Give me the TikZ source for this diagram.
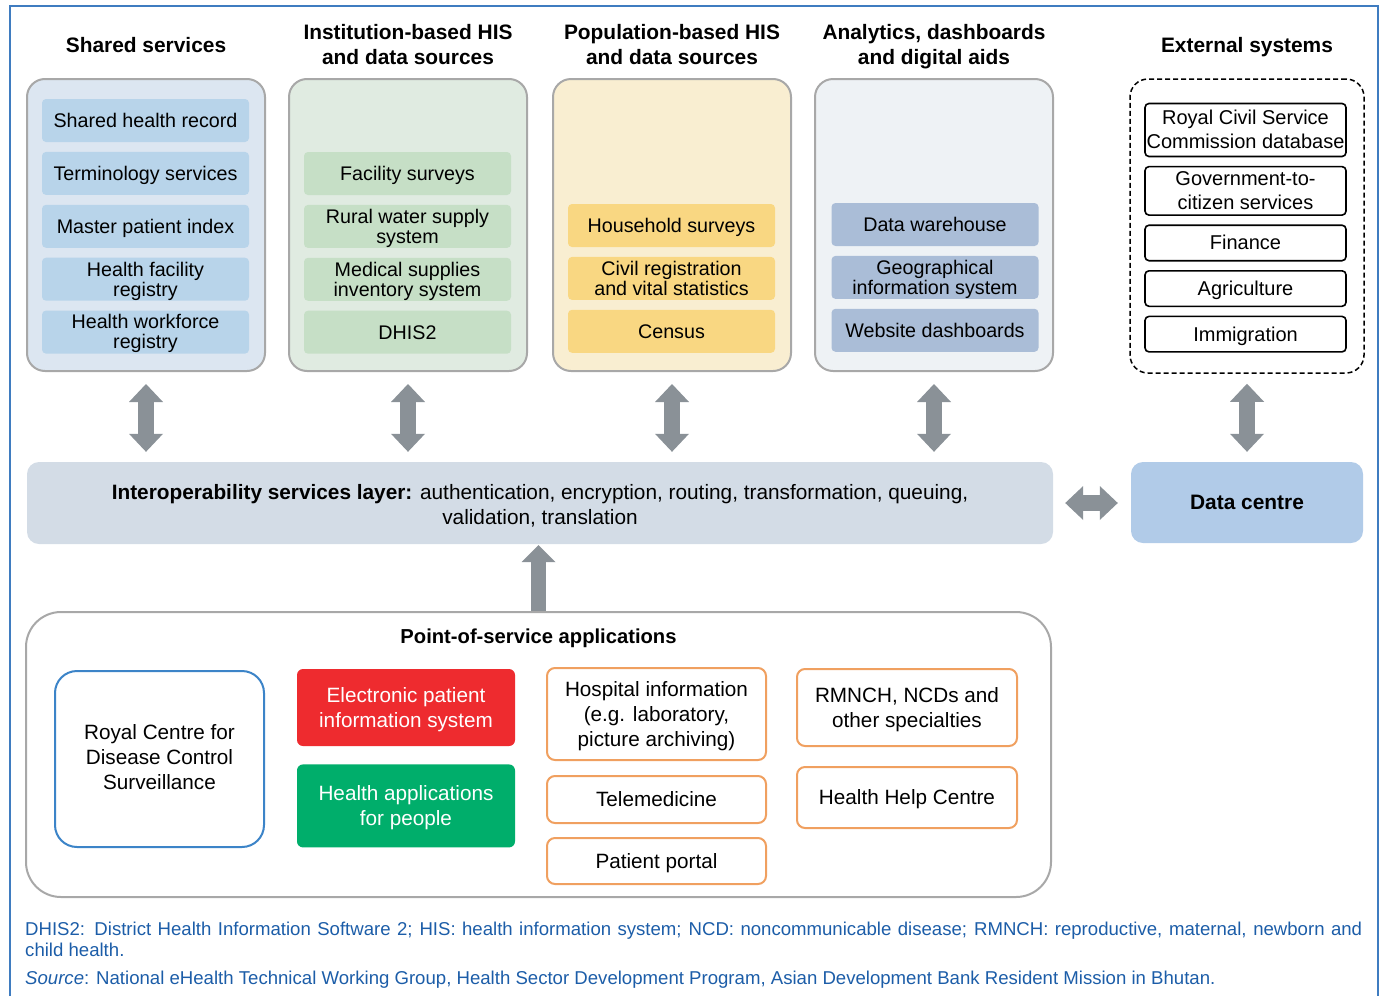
\documentclass[tikz,border=0pt]{standalone}
\usepackage{fontspec}
\setmainfont{Liberation Sans}
\usepackage{xcolor}
\usepackage{tikz}
\usetikzlibrary{arrows.meta,positioning}
\definecolor{frameblue}{HTML}{3F7CC0}
\definecolor{boxgrey}{HTML}{A8A8A8}
\definecolor{sharedbg}{HTML}{DCE6F1}
\definecolor{sharedfg}{HTML}{B8D4EA}
\definecolor{instbg}{HTML}{E0EBE1}
\definecolor{instfg}{HTML}{C6DFC6}
\definecolor{popbg}{HTML}{F9EED1}
\definecolor{popfg}{HTML}{F9D782}
\definecolor{anabg}{HTML}{EEF2F5}
\definecolor{anafg}{HTML}{AABDD7}
\definecolor{layerbg}{HTML}{D3DCE6}
\definecolor{centrebg}{HTML}{B1CBE8}
\definecolor{arrowgrey}{HTML}{8A9197}
\definecolor{eprred}{HTML}{EE2B2F}
\definecolor{appgreen}{HTML}{00AE6B}
\definecolor{orangeline}{HTML}{F0A060}
\definecolor{rcdcblue}{HTML}{3C84C8}
\definecolor{notetext}{HTML}{1C5DA8}
\tikzset{
  colbox/.style={
    draw=boxgrey, line width=2pt, fill=#1, rounded corners=18pt,
    minimum width=238pt, minimum height=292pt,
  },
  item/.style={
    fill=#1, rounded corners=4pt, inner sep=0pt,
    minimum width=207pt, minimum height=43pt,
    align=center, font=\fontsize{19.7}{20}\selectfont,
    text height=17.8pt, text depth=4.2pt,
  },
  item2/.style={item=#1, text height=37.8pt},
  head/.style={font=\fontsize{20.9}{25}\selectfont\bfseries, align=center, text height=18.9pt, text depth=4.4pt},
  head2/.style={head, text height=43.9pt},
  biarrow/.style={
    {Triangle[length=18pt,width=34pt,line width=0pt]}-{Triangle[length=18pt,width=34pt,line width=0pt]},
    line width=16pt, color=arrowgrey,
  },
  uparrow/.style={-{Triangle[length=17pt,width=34pt,line width=0pt]}, line width=15pt, color=arrowgrey},
  note/.style={font=\fontsize{18.6}{21}\selectfont, color=notetext, inner sep=0pt},
}

\begin{document}
\begin{tikzpicture}[
  x=1pt, y=-1pt,
  node distance=9.5pt,
  extframe/.style={draw=black, dashed, dash pattern=on 5pt off 3pt, line width=1.5pt, rounded corners=18pt, minimum width=234pt, minimum height=294pt},
  extitem/.style={draw=black, line width=1.6pt, fill=white, rounded corners=4pt, inner sep=0pt, minimum width=201pt, minimum height=35.5pt, align=center, font=\fontsize{20}{24}\selectfont, text height=18.1pt, text depth=4.2pt},
  positem/.style={draw=orangeline, line width=2pt, fill=white, rounded corners=8pt, inner sep=0pt, minimum width=219pt, align=center, font=\fontsize{20.7}{25}\selectfont, text height=18.7pt, text depth=4.4pt},
  fillitem/.style={fill=#1, text=white, rounded corners=6pt, inner sep=0pt, minimum width=218pt, align=center, font=\fontsize{20.7}{25}\selectfont, text height=43.7pt, text depth=4.4pt}
]

  \useasboundingbox (0,0) rectangle (1380,996);
  \draw[frameblue, line width=2pt] (10,996) -- (10,6) -- (1378,6) -- (1378,996);

  % headings
  \node[head] (hdshared) at (146,45.25) {Shared services};
  \node[head2] (hdinst) at (408,44.75) {Institution-based HIS\\and data sources};
  \node[head2] (hdpop) at (672,44.75) {Population-based HIS\\and data sources};
  \node[head2] (hdana) at (934,44.75) {Analytics, dashboards\\and digital aids};
  \node[head] (hdext) at (1247,45.25) {External systems};

  % columns
  \node[colbox=sharedbg] (shared) at (146,225) {};
  \node[colbox=instbg] (inst) at (408,225) {};
  \node[colbox=popbg] (pop) at (672,225) {};
  \node[colbox=anabg] (ana) at (934,225) {};
  \node[extframe] (ext) at (1247,226) {};

  \node[item=sharedfg] (shr) at (145.5,120.5) {Shared health record};
  \node[item=sharedfg, below=of shr] (term) {Terminology services};
  \node[item=sharedfg, below=of term] (mpi) {Master patient index};
  \node[item2=sharedfg, below=of mpi] (hfr) {Health facility\\registry};
  \node[item2=sharedfg, below=of hfr] (hwr) {Health workforce\\registry};

  \node[item=instfg] (facsurv) at (407.5,173.5) {Facility surveys};
  \node[item2=instfg, below=of facsurv] (water) {Rural water supply\\system};
  \node[item2=instfg, below=of water] (medsup) {Medical supplies\\inventory system};
  \node[item=instfg, below=of medsup] (dhis) {DHIS2};

  \node[item=popfg] (hhsurv) at (671.5,225.5) {Household surveys};
  \node[item2=popfg, below=of hhsurv] (crvs) {Civil registration\\and vital statistics};
  \node[item=popfg, below=of crvs] (census) {Census};

  \node[item=anafg] (dwh) at (935,224.5) {Data warehouse};
  \node[item2=anafg, below=of dwh] (gis) {Geographical\\information system};
  \node[item=anafg, below=of gis] (webdash) {Website dashboards};

  \node[extitem, minimum height=53pt, text height=42.1pt] (rcsc) at (1245.5,130) {Royal Civil Service\\Commission database};
  \node[extitem, minimum height=48.5pt, text height=42.1pt, below=8.5pt of rcsc] (g2c) {Government-to-\\citizen services};
  \node[extitem, below=8.5pt of g2c] (finance) {Finance};
  \node[extitem, below=8.5pt of finance] (agri) {Agriculture};
  \node[extitem, below=8.5pt of agri] (immig) {Immigration};

  % middle layer
  \node[fill=layerbg, rounded corners=12pt, minimum width=1026pt, minimum height=82pt, align=center,
    font=\fontsize{20.8}{25}\selectfont, text height=47.8pt, text depth=4.4pt] (isl) at (540,503)
    {\textbf{Interoperability services layer:} authentication, encryption, routing, transformation, queuing,\\validation, translation};
  \node[fill=centrebg, rounded corners=12pt, minimum width=232pt, minimum height=81pt,
    font=\fontsize{20.9}{25}\selectfont\bfseries, text height=18.9pt, text depth=4.4pt] (dc) at (1247,502.5) {Data centre};

  % point of service
  \node[draw=boxgrey, line width=2pt, fill=white, rounded corners=35pt, minimum width=1025pt, minimum height=285pt] (pos) at (538.5,754.5) {};
  \node[font=\fontsize{20.2}{25}\selectfont\bfseries, text height=18.3pt, text depth=4.3pt] (postitle) at (538.5,636) {Point-of-service applications};

  \node[draw=rcdcblue, line width=2pt, rounded corners=22pt, minimum width=209pt, minimum height=176pt, align=center,
    font=\fontsize{20.7}{25}\selectfont, text height=64.7pt, text depth=4.4pt] (rcdc) at (159.5,759) {Royal Centre for\\Disease Control\\Surveillance};
  \node[fillitem=eprred, minimum height=77pt] (epis) at (406,707.5) {Electronic patient\\information system};
  \node[fillitem=appgreen, minimum height=83pt, below=18pt of epis] (apps) {Health applications\\for people};
  \node[positem, minimum height=92pt, text height=68.7pt] (hosp) at (656.5,714) {Hospital information\\(e.g. laboratory,\\picture archiving)};
  \node[positem, minimum height=47pt, below=14pt of hosp] (tele) {Telemedicine};
  \node[positem, minimum height=46pt, below=13pt of tele] (portal) {Patient portal};
  \node[positem, minimum width=220pt, minimum height=77pt, text height=43.7pt] (rmnch) at (907,707.5) {RMNCH, NCDs and\\other specialties};
  \node[positem, minimum width=220pt, minimum height=61pt, below=19pt of rmnch] (help) {Health Help Centre};

  % arrows
  \foreach \c in {shared,inst,pop,ana}
    \draw[biarrow, shorten <=12pt, shorten >=10pt] (\c.south) -- (\c.south |- isl.north);
  \draw[biarrow, shorten <=10pt, shorten >=10pt] (ext.south) -- (ext.south |- dc.north);
  \draw[biarrow, shorten <=12pt, shorten >=13pt] (isl.east) -- (isl.east -| dc.west);
  \draw[uparrow, shorten >=1pt] (pos.north) -- (pos.north |- isl.south);

  % notes
  \node[note, text width=1337pt, align=justify, anchor=north west] (abbrev) at (25,922)
    {DHIS2: District Health Information Software 2; HIS: health information system; NCD: noncommunicable disease; RMNCH: reproductive, maternal, newborn and\linebreak child health.};
  \node[note, anchor=base west] (source) at (25,984)
    {\textit{Source}: National eHealth Technical Working Group, Health Sector Development Program, Asian Development Bank Resident Mission in Bhutan.};

\end{tikzpicture}
\end{document}
